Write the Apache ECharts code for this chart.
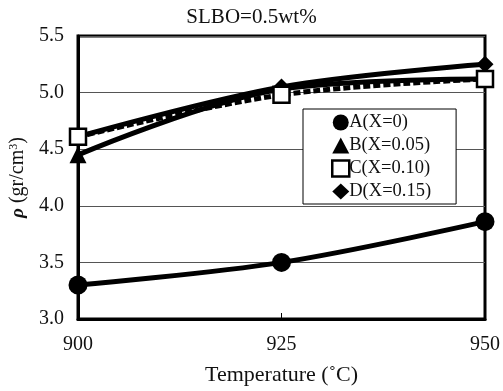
<!DOCTYPE html>
<html><head><meta charset="utf-8">
<script src="https://cdn.jsdelivr.net/npm/echarts@6/dist/echarts.min.js"></script>
<style>html,body{margin:0;padding:0;background:#fff}#c{width:503px;height:391px}</style>
</head><body><div id="c"></div>
<script>
const temps = [900, 925, 950];
const seriesNames = ['A(X=0)', 'B(X=0.05)', 'C(X=0.10)', 'D(X=0.15)'];
const valuesA = [3.30, 3.50, 3.86];
const valuesB = [4.45, 5.03, 5.12];
const valuesC = [4.61, 4.98, 5.12];
const valuesD = [4.61, 5.05, 5.25];
const yTicks = [3.0, 3.5, 4.0, 4.5, 5.0, 5.5];

const font = 'Liberation Serif';
const chart = echarts.init(document.getElementById('c'));
function mk(name, vals, symbol, size, opts) {
  return Object.assign({
    name, type: 'line', smooth: 0.35,
    data: temps.map((t, i) => [t, vals[i]]),
    symbol, symbolSize: size,
    lineStyle: { color: '#000', width: 5 },
    itemStyle: { color: '#000', borderColor: '#000', borderWidth: 0 },
    z: 3
  }, opts || {});
}
chart.setOption({
  animation: false,
  backgroundColor: '#fff',
  title: { text: 'SLBO=0.5wt%', left: 'center', top: 2,
    textStyle: { fontFamily: font, fontSize: 21, fontWeight: 'normal', color: '#111' } },
  grid: { left: 78, right: 15, top: 36, bottom: 69, show: true, borderColor: '#000', borderWidth: 3 },
  legend: {
    orient: 'vertical', left: 303, top: 109,
    backgroundColor: '#fff', borderColor: '#000', borderWidth: 1,
    padding: [4, 25, 3, 28], itemGap: 4, itemWidth: 17, itemHeight: 16,
    textStyle: { fontFamily: font, fontSize: 18.5, color: '#111', padding: [0, 0, 0, -5] },
    data: [
      { name: seriesNames[0], icon: 'circle' },
      { name: seriesNames[1], icon: 'triangle' },
      { name: seriesNames[2], icon: 'rect', itemStyle: { color: '#fff', borderColor: '#000', borderWidth: 2.5 } },
      { name: seriesNames[3], icon: 'diamond' }
    ]
  },
  xAxis: {
    type: 'value', min: 900, max: 950, interval: 25,
    name: 'Temperature (˚C)', nameLocation: 'middle', nameGap: 45,
    nameTextStyle: { fontFamily: font, fontSize: 22, color: '#111' },
    axisLine: { lineStyle: { color: '#000', width: 3 } },
    axisTick: { inside: true, length: 6, lineStyle: { color: '#000', width: 1 } },
    axisLabel: { fontFamily: font, fontSize: 20, color: '#111', margin: 16 },
    splitLine: { show: false }
  },
  yAxis: {
    type: 'value', min: yTicks[0], max: yTicks[yTicks.length - 1], interval: 0.5,
    name: '{r|ρ} (gr/cm{s|3})', nameLocation: 'middle', nameGap: 46, nameRotate: 90,
    nameTextStyle: { fontFamily: font, fontSize: 20, color: '#111',
      rich: { r: { fontFamily: font, fontSize: 19, fontWeight: 'bold', fontStyle: 'italic', color: '#111' },
              s: { fontFamily: font, fontSize: 12, color: '#111', verticalAlign: 'top', padding: [0, 0, 8, 0] } } },
    axisLine: { show: true, lineStyle: { color: '#000', width: 3 } },
    axisTick: { show: false },
    axisLabel: { fontFamily: font, fontSize: 20, color: '#111', margin: 14, formatter: v => v.toFixed(1) },
    splitLine: { lineStyle: { color: '#555', width: 1 } }
  },
  series: [
    mk(seriesNames[0], valuesA, 'circle', 19),
    mk(seriesNames[1], valuesB, 'triangle', 17),
    mk(seriesNames[2], valuesC, 'rect', 16, {
      lineStyle: { color: '#000', width: 5, type: [7, 3] },
      itemStyle: { color: '#fff', borderColor: '#000', borderWidth: 2.5 }, z: 4 }),
    mk(seriesNames[3], valuesD, 'diamond', 17)
  ]
});
</script></body></html>
